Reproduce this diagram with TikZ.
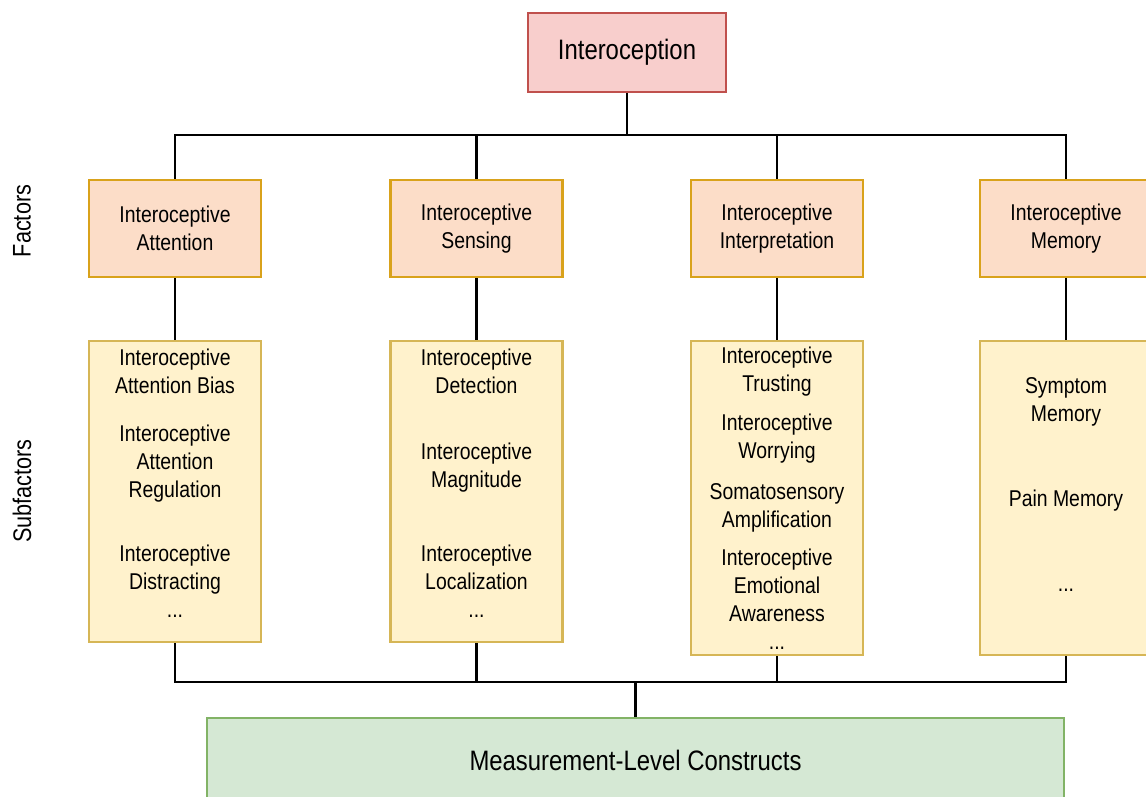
\documentclass[tikz,border=0pt]{standalone}
\usepackage{fontspec}
\setmainfont{Liberation Sans}[FakeStretch=0.85]
\usepackage{tikz}
\usetikzlibrary{positioning}
\definecolor{rootfill}{HTML}{F8CECC}
\definecolor{rootdraw}{HTML}{C0504D}
\definecolor{factfill}{HTML}{FCDDC8}
\definecolor{factdraw}{HTML}{D9A21B}
\definecolor{subfill}{HTML}{FFF2CC}
\definecolor{subdraw}{HTML}{D6B656}
\definecolor{measfill}{HTML}{D5E8D4}
\definecolor{measdraw}{HTML}{82B366}

\begin{document}
\begin{tikzpicture}[x=0.02cm, y=-0.02cm,
        box/.style={draw, rectangle, line width=1.2pt, inner sep=0pt},
        rootbox/.style={box, fill=rootfill, draw=rootdraw, minimum width=3.96cm, minimum height=1.58cm, font=\fontsize{16}{19}\selectfont},
        factbox/.style={box, fill=factfill, draw=factdraw, minimum width=3.44cm, minimum height=1.94cm, align=center, font=\fontsize{13}{15.9}\selectfont},
        subbox/.style={box, fill=subfill, draw=subdraw, minimum width=3.44cm},
        measbox/.style={box, fill=measfill, draw=measdraw, minimum width=17.14cm, minimum height=1.68cm, font=\fontsize{16}{19}\selectfont},
        item/.style={align=center, inner sep=0pt, font=\fontsize{13}{15.9}\selectfont},
        side/.style={rotate=90, font=\fontsize{14.5}{17}\selectfont},
        link/.style={line width=1.3pt}
    ]
        \useasboundingbox (0,0) rectangle (1146,796);

        % Nodes
        \node[rootbox] (intero) at (627, 52.5) {Interoception};

        \node[factbox] (fAtt) at (175, 228.5) {Interoceptive\\Attention};
        \node[factbox] (fSen) at (476.5, 228.5) {Interoceptive\\Sensing};
        \node[factbox] (fInt) at (777, 228.5) {Interoceptive\\Interpretation};
        \node[factbox] (fMem) at (1066, 228.5) {Interoceptive\\Memory};

        \node[subbox, minimum height=6.02cm] (sAtt) at (175, 491.5) {};
        \node[subbox, minimum height=6.02cm] (sSen) at (476.5, 491.5) {};
        \node[subbox, minimum height=6.28cm] (sInt) at (777, 498) {};
        \node[subbox, minimum height=6.28cm] (sMem) at (1066, 498) {};

        \node[item] (att1) at (175, 371) {Interoceptive\\Attention Bias};
        \node[item] (att2) at (175, 463.5) {Interoceptive\\Attention\\Regulation};
        \node[item] (att3) at (175, 581) {Interoceptive\\Distracting\\...};

        \node[item] (sen1) at (476.5, 371) {Interoceptive\\Detection};
        \node[item] (sen2) at (476.5, 467.5) {Interoceptive\\Magnitude};
        \node[item] (sen3) at (476.5, 581) {Interoceptive\\Localization\\...};

        \node[item] (int1) at (777, 372) {Interoceptive\\Trusting};
        \node[item] (int2) at (777, 439) {Interoceptive\\Worrying};
        \node[item] (int3) at (777, 508) {Somatosensory\\Amplification};
        \node[item] (int4) at (777, 599) {Interoceptive\\Emotional\\Awareness\\...};

        \node[item] (mem1) at (1066, 402) {Symptom\\Memory};
        \node[item] (mem2) at (1066, 501) {Pain Memory};
        \node[item] (mem3) at (1066, 590) {...};

        \node[measbox] (meas) at (635.5, 760) {Measurement-Level Constructs};

        \node[side] (lblFact) at (22, 221) {Factors};
        \node[side] (lblSub) at (22, 491) {Subfactors};

        \coordinate (topbar) at (176, 135);
        \coordinate (botbar) at (176, 682);

        % Connectors
        \draw[link] (fAtt.north) -- (fAtt.north |- topbar) -| (fMem.north);
        \draw[link] (intero.south) -- (intero.south |- topbar);
        \draw[link] (fSen.north) -- (fSen.north |- topbar);
        \draw[link] (fInt.north) -- (fInt.north |- topbar);

        \draw[link] (fAtt) -- (sAtt);
        \draw[link] (fSen) -- (sSen);
        \draw[link] (fInt) -- (sInt);
        \draw[link] (fMem) -- (sMem);

        \draw[link] (sAtt.south) -- (sAtt.south |- botbar) -| (sMem.south);
        \draw[link] (sSen.south) -- (sSen.south |- botbar);
        \draw[link] (sInt.south) -- (sInt.south |- botbar);
        \draw[link] (meas.north) -- (meas.north |- botbar);
    \end{tikzpicture}
\end{document}
